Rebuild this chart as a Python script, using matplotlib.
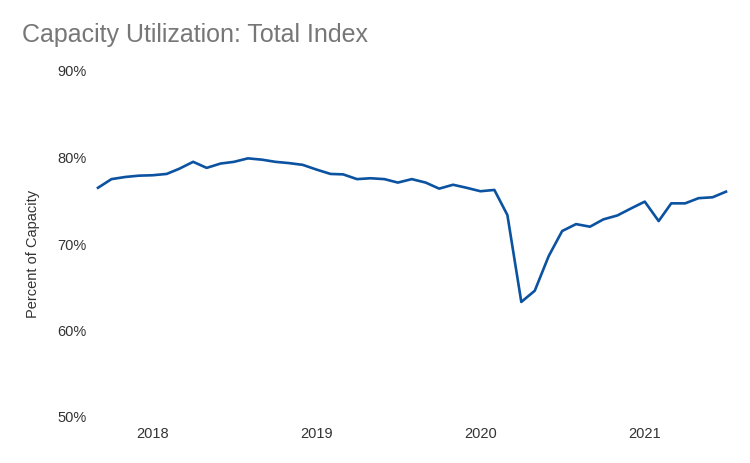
import pandas as pd
import matplotlib
matplotlib.use('Agg')
import matplotlib.pyplot as plt
import matplotlib.dates as mdates
from matplotlib.ticker import FuncFormatter

plt.rcParams['font.family'] = ['Liberation Sans', 'DejaVu Sans']

# monthly capacity utilization, Sep 2017 - Jul 2021 (percent)
months = pd.date_range('2017-09-01', '2021-07-01', freq='MS')
utilization = [
    76.5, 77.5, 77.75, 77.9,                                                # 2017
    77.95, 78.1, 78.7, 79.5, 78.8, 79.3, 79.5, 79.9, 79.75, 79.5, 79.35, 79.15,  # 2018
    78.6, 78.1, 78.05, 77.5, 77.6, 77.5, 77.1, 77.5, 77.1, 76.4, 76.85, 76.5,   # 2019
    76.1, 76.25, 73.35, 63.3, 64.6, 68.6, 71.5, 72.3, 72.0, 72.85, 73.3, 74.1,  # 2020
    74.9, 72.65, 74.7, 74.7, 75.3, 75.4, 76.05,                               # 2021
]
year_ticks = pd.to_datetime(['2018-01-01', '2019-01-01', '2020-01-01', '2021-01-01'])
y_ticks = [50, 60, 70, 80, 90]

fig = plt.figure(figsize=(7.5, 4.63), dpi=100)
ax = fig.add_axes([98 / 750, 46 / 463, 628 / 750, 346 / 463])

ax.plot(months, utilization, color='#0b52a0', linewidth=1.9, clip_on=False)

ax.set_xlim(months[0], months[-1])
ax.set_ylim(50, 90)
ax.set_yticks(y_ticks)
ax.yaxis.set_major_formatter(FuncFormatter(lambda v, p: f'{v:.0f}%'))
ax.set_xticks(year_ticks)
ax.xaxis.set_major_formatter(mdates.DateFormatter('%Y'))

ax.tick_params(axis='both', length=0, labelsize=10.5, colors='#333333')
ax.tick_params(axis='y', pad=8)
ax.tick_params(axis='x', pad=7)
for s in ax.spines.values():
    s.set_visible(False)

ax.set_ylabel('Percent of Capacity', fontsize=10.5, color='#333333')
ax.yaxis.set_label_coords(-0.092, 0.471)
fig.text(22 / 750, 1 - 35 / 463, 'Capacity Utilization: Total Index',
         fontsize=18, color='#777777', va='center', ha='left')

fig.savefig('out.png', dpi=100, facecolor='white')
